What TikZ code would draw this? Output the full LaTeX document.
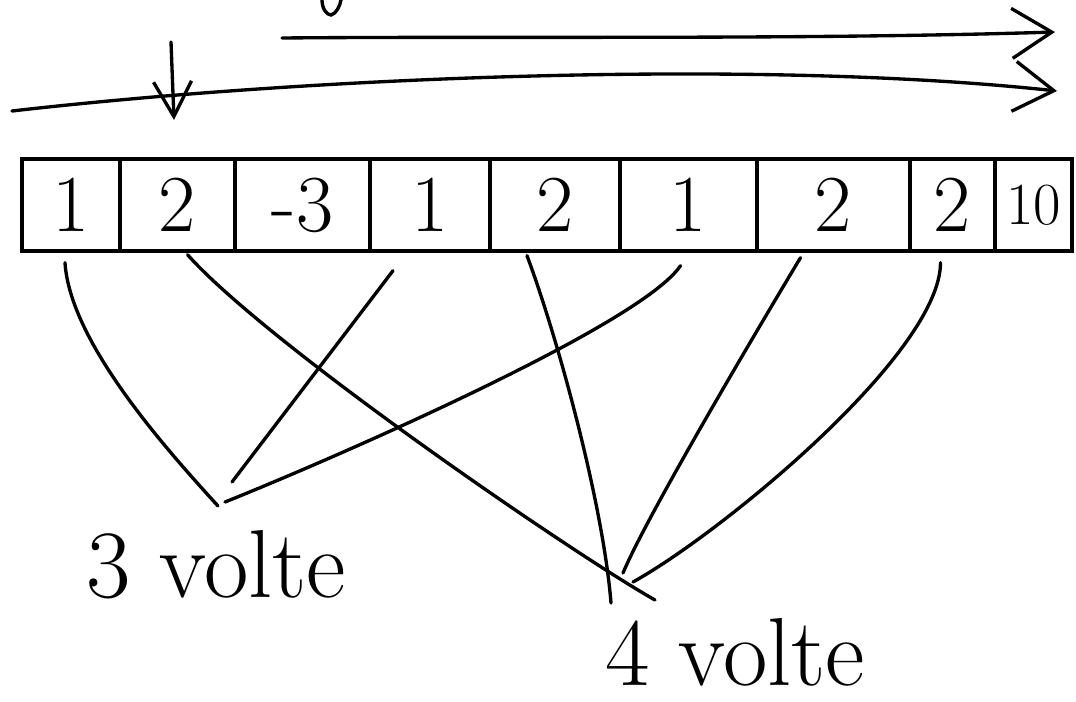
\documentclass[tikz,border=0pt]{standalone}
\usepackage{fontspec}
\usepackage{tikz}
\usetikzlibrary{arrows.meta, calc, positioning}

\begin{document}
\begin{tikzpicture}[x=0.2mm, y=-0.2mm,
        cell/.style={rectangle, draw, line width=1.9pt, minimum height=18.4mm, inner sep=0pt, font=\fontsize{46}{50}\selectfont},
        link/.style={line width=1.9pt, line cap=round},
        arrow/.style={line width=1.9pt, line cap=round, -{Straight Barb[length=8mm, width=10mm, line width=1.9pt]}},
        tally/.style={font=\fontsize{55}{60}\selectfont, inner sep=0pt}
    ]
        \useasboundingbox (0,0) rectangle (1076,702);

        % the array
        \foreach \val/\lft/\rgt [count=\i] in {1/22/120, 2/120/235, -3/235/370, 1/370/490, 2/490/620, 1/620/757, 2/757/910, 2/910/995}
            \node[cell, minimum width={(\rgt-\lft)*0.2mm}] (c\i) at ({(\lft+\rgt)/2},205) {\val};
        \node[cell, minimum width=15.4mm, font=\fontsize{34}{38}\selectfont] (c9) at (1033.5,205) {10};

        % scan arrows above
        \coordinate (topS) at (282,38);
        \coordinate (topE) at (1055,32);
        \coordinate (lowS) at (12,111);
        \coordinate (lowE) at (1057,91);
        \coordinate (downS) at (171,42);
        \coordinate (downE) at (174,120);
        \draw[arrow] (topS) .. controls (500,36) and (800,40) .. (topE);
        \draw[arrow] (lowS) .. controls (300,78) and (750,58) .. (lowE);
        \draw[arrow, -{Straight Barb[length=7mm, width=7.6mm, line width=1.9pt]}] (downS) -- (downE);
        \draw[link] (322,0) .. controls (322,9) and (327,15) .. (331,15) .. controls (336,14) and (340,6) .. (341,0);

        % counts
        \node[tally] (three) at (216,565) {3 volte};
        \node[tally] (four) at (735,652) {4 volte};
        \coordinate (t1) at (218,506);
        \coordinate (t2) at (232,482);
        \coordinate (t3) at (225,502);
        \coordinate (q1) at (655,600);
        \coordinate (q2) at (611,603);
        \coordinate (q3) at (623,573);
        \coordinate (q4) at (633,582);

        \draw[link] ($(c1.south)+(-6,10)$) .. controls +(5,80) and +(-50,-55) .. (t1);
        \draw[link] ($(c4.south)+(-37,18)$) -- (t2);
        \draw[link] ($(c6.south)+(-8,13)$) .. controls +(-40,60) and +(100,-40) .. (t3);

        \draw[link] ($(c2.south)+(10,2)$) .. controls +(80,90) and +(-80,-45) .. (q1);
        \draw[link] ($(c5.south)+(-28,3)$) .. controls +(30,80) and +(-8,-100) .. (q2);
        \draw[link] ($(c7.south)+(-33,5)$) .. controls +(-30,50) and +(25,-60) .. (q3);
        \draw[link] ($(c8.south)+(-12,10)$) .. controls +(0,90) and +(90,-50) .. (q4);
    \end{tikzpicture}
\end{document}
